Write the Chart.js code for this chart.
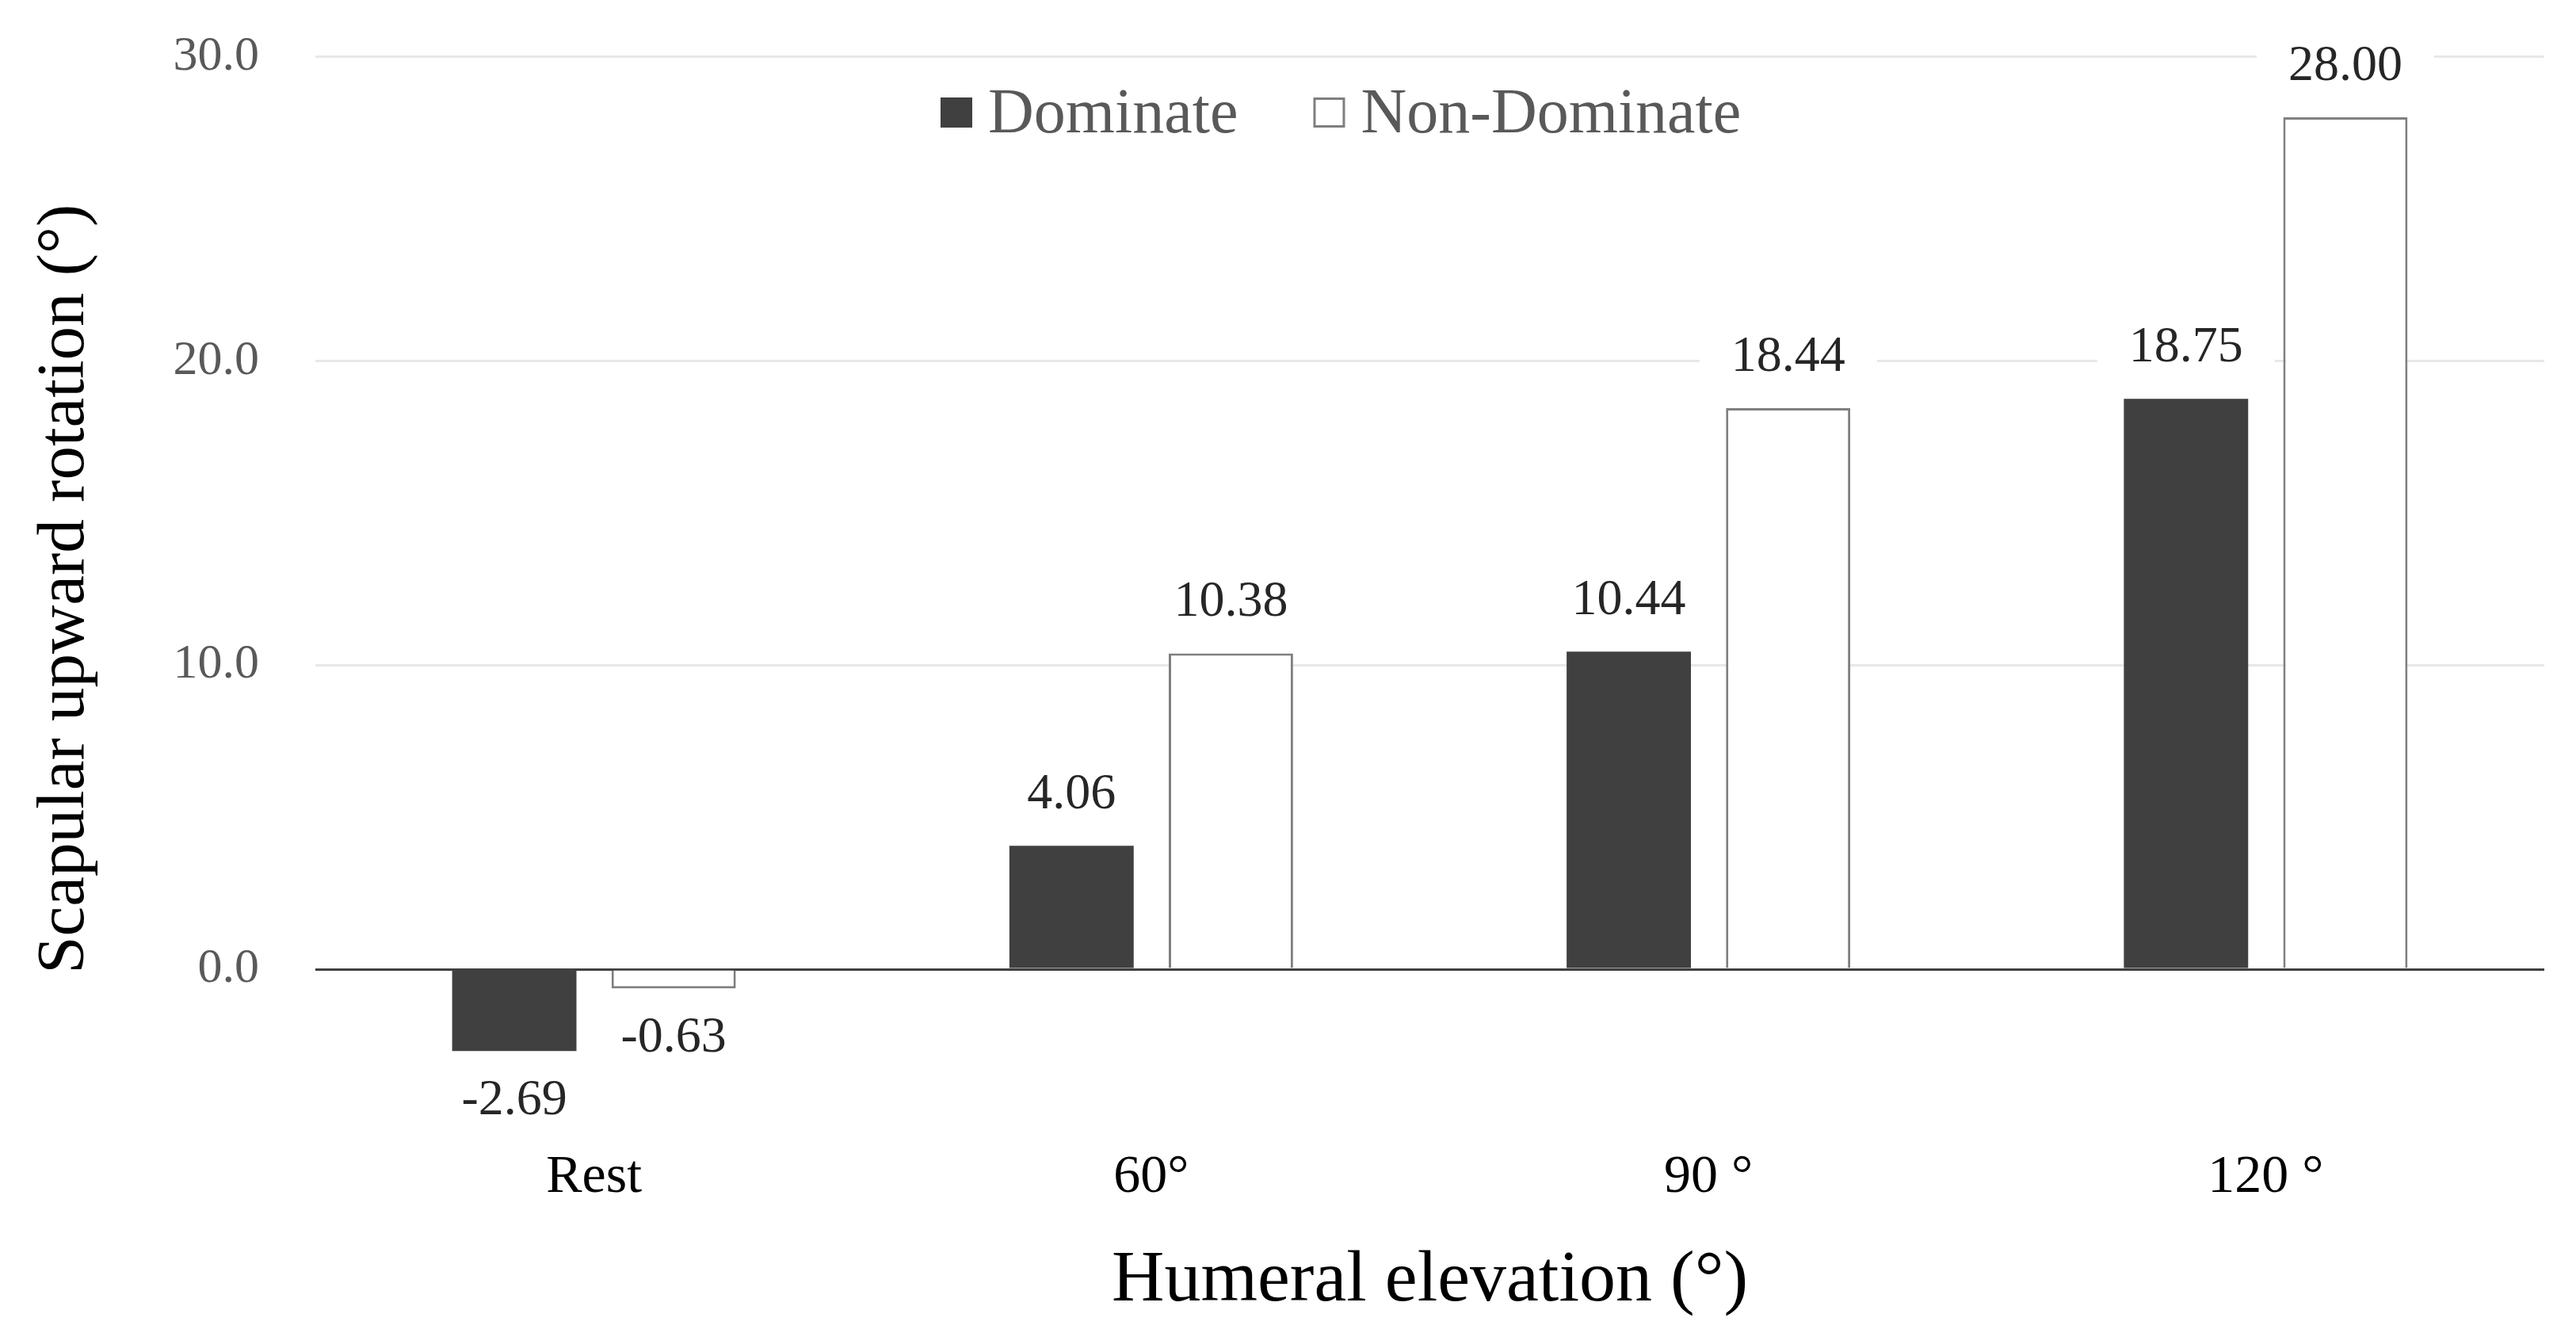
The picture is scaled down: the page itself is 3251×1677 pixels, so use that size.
<!DOCTYPE html>
<html>
<head>
<meta charset="utf-8">
<script src="https://cdn.jsdelivr.net/npm/chart.js@4.4.1/dist/chart.umd.min.js"></script>
<style>
  html, body { margin: 0; padding: 0; background: #fff; }
  canvas { display: block; }
</style>
</head>
<body>
<canvas id="chart" width="3251" height="1677"></canvas>
<script>
const categories = ['Rest', '60°', '90 °', '120 °'];
const dominate = [-2.69, 4.06, 10.44, 18.75];
const nonDominate = [-0.63, 10.38, 18.44, 28.00];
const yTicks = [0, 10, 20, 30];
const seriesNames = ['Dominate', 'Non-Dominate'];

const serif = "'Liberation Serif', 'Times New Roman', serif";

// value labels with white backing so the gridlines break around them
const valueLabels = {
  id: 'valueLabels',
  afterDatasetsDraw(chart) {
    const ctx = chart.ctx;
    ctx.save();
    ctx.font = '64px ' + serif;
    ctx.textAlign = 'center';
    ctx.textBaseline = 'middle';
    chart.data.datasets.forEach((ds, i) => {
      chart.getDatasetMeta(i).data.forEach((bar, j) => {
        const v = ds.data[j];
        const txt = v.toFixed(2);
        const y = v >= 0 ? bar.y - 64 : bar.y + 63;
        const w = ctx.measureText(txt).width;
        ctx.fillStyle = '#fff';
        ctx.fillRect(bar.x - w / 2 - 40, y - 42, w + 80, 84);
        ctx.fillStyle = '#262626';
        ctx.fillText(txt, bar.x, y);
      });
    });
    ctx.restore();
  }
};

// legend drawn inside the plot, near the top
const innerLegend = {
  id: 'innerLegend',
  afterDraw(chart) {
    const ctx = chart.ctx;
    ctx.save();
    ctx.font = '80px ' + serif;
    ctx.textBaseline = 'middle';
    let x = chart.chartArea.left + 789;
    const y = 142;
    chart.data.datasets.forEach((ds, i) => {
      ctx.fillStyle = ds.backgroundColor;
      ctx.fillRect(x, y - 19, 40, 38);
      if (i === 1) {
        ctx.strokeStyle = ds.borderColor;
        ctx.lineWidth = 3;
        ctx.strokeRect(x + 1.5, y - 17.5, 37, 35);
      }
      x += 60;
      ctx.fillStyle = '#595959';
      ctx.fillText(seriesNames[i], x, y + 4);
      x += ctx.measureText(seriesNames[i]).width + 95;
    });
    ctx.restore();
  }
};

new Chart(document.getElementById('chart'), {
  type: 'bar',
  data: {
    labels: categories,
    datasets: [{
      label: seriesNames[0],
      data: dominate,
      backgroundColor: '#404040',
      borderWidth: 0,
      categoryPercentage: 0.572,
      barPercentage: 0.78
    }, {
      label: seriesNames[1],
      data: nonDominate,
      backgroundColor: '#ffffff',
      borderColor: '#7f7f7f',
      borderWidth: 3,
      categoryPercentage: 0.572,
      barPercentage: 0.78
    }]
  },
  options: {
    responsive: false,
    devicePixelRatio: 1,
    animation: false,
    layout: { padding: { top: 36, right: 40, bottom: 0, left: 0 } },
    plugins: {
      legend: { display: false },
      tooltip: { enabled: false }
    },
    scales: {
      x: {
        grid: { display: false },
        border: { display: false },
        ticks: {
          color: '#000',
          font: { family: serif, size: 68 },
          padding: 22
        },
        title: {
          display: true,
          text: 'Humeral elevation (°)',
          color: '#000',
          font: { family: serif, size: 92 },
          padding: { top: 0, bottom: 5 }
        },
        afterFit(scale) { scale.height = 262; }
      },
      y: {
        min: -5,
        max: 30,
        afterBuildTicks(axis) {
          axis.ticks = yTicks.map(v => ({ value: v }));
        },
        grid: {
          drawTicks: false,
          lineWidth: 3,
          color: c => c.tick && c.tick.value === 0 ? '#404040' : '#e8e8e8'
        },
        border: { display: false },
        ticks: {
          color: '#595959',
          // tiny line height keeps the label from pushing the plot top down
          font: { family: serif, size: 62, lineHeight: 0.01 },
          padding: 71,
          callback: v => v.toFixed(1)
        },
        title: {
          display: true,
          text: 'Scapular upward rotation (°)',
          color: '#000',
          font: { family: serif, size: 85 },
          padding: { top: 32, bottom: 0 }
        },
        afterFit(scale) { scale.width = 398; }
      }
    }
  },
  plugins: [valueLabels, innerLegend]
});
</script>
</body>
</html>
